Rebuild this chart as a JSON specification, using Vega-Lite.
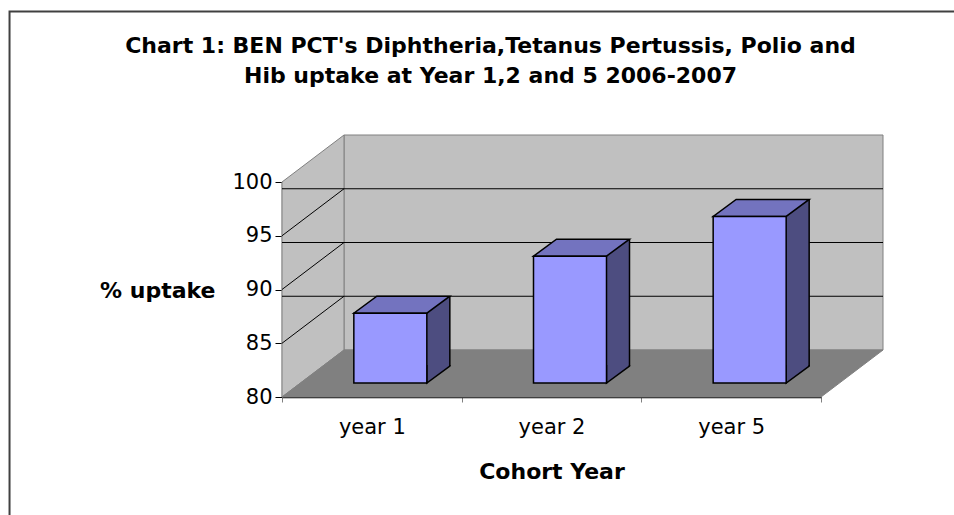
{
  "$schema": "https://vega.github.io/schema/vega-lite/v6.json",
  "autosize": {"type": "none"},
  "padding": {"left": 282, "top": 182, "right": 133, "bottom": 118},
  "width": 539,
  "height": 215,
  "background": "#ffffff",
  "config": {"view": {"stroke": null}, "font": "DejaVu Sans"},
  "title": {
    "text": ["Chart 1: BEN PCT's Diphtheria,Tetanus Pertussis, Polio and", "Hib uptake  at Year 1,2 and 5  2006-2007"],
    "font": "DejaVu Sans", "fontSize": 22, "fontWeight": "bold", "color": "#000000",
    "anchor": "middle", "frame": "group", "dx": -61, "offset": -97.5,
    "baseline": "alphabetic", "lineHeight": 30.5
  },
  "data": {"values": [
    {"cohort": "year 1", "uptake": 86.5},
    {"cohort": "year 2", "uptake": 91.8},
    {"cohort": "year 5", "uptake": 95.5}
  ]},
  "layer": [
    {
      "data": {"values": [{}]},
      "mark": {"type": "point", "shape": "M-362.3,130 L-362.3,-385.5 L600,-385.5", "size": 4, "filled": false, "stroke": "#404040", "strokeWidth": 2, "opacity": 1},
      "encoding": {"x": {"datum": "year 1", "type": "nominal", "title": "Cohort Year"}, "y": {"datum": 80, "type": "quantitative", "title": "% uptake"}}
    },
    {
      "data": {"values": [{}]},
      "mark": {"type": "point", "shape": "M-27.83,-262 L511.17,-262 L511.17,-47 L-27.83,-47 Z", "size": 4, "filled": true, "fill": "#C0C0C0", "stroke": "#808080", "strokeWidth": 1, "opacity": 1},
      "encoding": {"x": {"datum": "year 1", "type": "nominal", "title": "Cohort Year"}, "y": {"datum": 80, "type": "quantitative", "title": "% uptake"}}
    },
    {
      "data": {"values": [{}]},
      "mark": {"type": "point", "shape": "M-89.83,-215 L-27.83,-262 L-27.83,-47 L-89.83,0 Z", "size": 4, "filled": true, "fill": "#C0C0C0", "stroke": "#808080", "strokeWidth": 1, "opacity": 1},
      "encoding": {"x": {"datum": "year 1", "type": "nominal", "title": "Cohort Year"}, "y": {"datum": 80, "type": "quantitative", "title": "% uptake"}}
    },
    {
      "data": {"values": [{}]},
      "mark": {"type": "point", "shape": "M-89.83,0 L449.17,0 L511.17,-47 L-27.83,-47 Z", "size": 4, "filled": true, "fill": "#808080", "stroke": "#808080", "strokeWidth": 1, "opacity": 1},
      "encoding": {"x": {"datum": "year 1", "type": "nominal", "title": "Cohort Year"}, "y": {"datum": 80, "type": "quantitative", "title": "% uptake"}}
    },
    {
      "data": {"values": [{"tick": 85}, {"tick": 90}, {"tick": 95}]},
      "mark": {"type": "rule", "color": "#000000", "strokeWidth": 1, "xOffset": 62, "x2Offset": 62, "yOffset": -47},
      "encoding": {"y": {"field": "tick", "type": "quantitative", "title": "% uptake"}}
    },
    {
      "data": {"values": [{"tick": 85}, {"tick": 90}, {"tick": 95}]},
      "mark": {"type": "rule", "color": "#000000", "strokeWidth": 1, "xOffset": -89.83, "x2Offset": -27.83, "y2Offset": -47},
      "encoding": {
        "x": {"datum": "year 1", "type": "nominal", "title": "Cohort Year"},
        "x2": {"datum": "year 1"},
        "y": {"field": "tick", "type": "quantitative", "title": "% uptake"},
        "y2": {"field": "tick"}
      }
    },
    {
      "mark": {"type": "bar", "fill": "#4D4D80", "width": 73, "xOffset": 41.5, "yOffset": -31, "y2Offset": -31},
      "encoding": {
        "x": {"field": "cohort", "type": "nominal", "title": "Cohort Year"},
        "y": {"field": "uptake", "type": "quantitative", "title": "% uptake"},
        "y2": {"datum": 80}
      }
    },
    {
      "mark": {"type": "point", "shape": "M55,-32 L55,-14 L78,-31 L78,-32", "size": 4, "filled": true, "fill": "#4D4D80", "stroke": "#000000", "strokeWidth": 1.5, "opacity": 1},
      "encoding": {
        "x": {"field": "cohort", "type": "nominal", "title": "Cohort Year"},
        "y": {"datum": 80, "type": "quantitative", "title": "% uptake"}
      }
    },
    {
      "mark": {"type": "rule", "color": "#000000", "strokeWidth": 1.5, "xOffset": 78, "yOffset": -31, "y2Offset": -31},
      "encoding": {
        "x": {"field": "cohort", "type": "nominal", "title": "Cohort Year"},
        "y": {"field": "uptake", "type": "quantitative", "title": "% uptake"},
        "y2": {"datum": 80}
      }
    },
    {
      "mark": {"type": "point", "shape": "M-18,-14 L55,-14 L78,-31 L5,-31 Z", "size": 4, "filled": true, "fill": "#7373BF", "stroke": "#000000", "strokeWidth": 1.5, "opacity": 1},
      "encoding": {
        "x": {"field": "cohort", "type": "nominal", "title": "Cohort Year"},
        "y": {"field": "uptake", "type": "quantitative", "title": "% uptake"}
      }
    },
    {
      "mark": {"type": "bar", "fill": "#9999FF", "stroke": "#000000", "strokeWidth": 1.5, "width": 73, "xOffset": 18.5, "yOffset": -14, "y2Offset": -14},
      "encoding": {
        "x": {
          "field": "cohort", "type": "nominal", "title": "Cohort Year",
          "scale": {"domain": ["year 1", "year 2", "year 5"], "paddingInner": 0, "paddingOuter": 0},
          "axis": {
            "labelAngle": 0, "labelAlign": "center", "labelFont": "DejaVu Sans", "labelFontSize": 21, "labelColor": "#000000",
            "tickBand": "extent", "tickSize": 5, "tickColor": "#808080", "domainColor": "#000000", "domainWidth": 1.5,
            "labelPadding": 25, "grid": false,
            "titleFont": "DejaVu Sans", "titleFontSize": 22, "titleFontWeight": "bold", "titleColor": "#000000",
            "titleX": 269.5, "titleY": 81, "titleBaseline": "alphabetic", "titleAlign": "center"
          }
        },
        "y": {
          "field": "uptake", "type": "quantitative", "title": "% uptake",
          "scale": {"domain": [80, 100], "nice": false, "zero": false},
          "axis": {
            "values": [80, 85, 90, 95, 100], "grid": false,
            "labelFont": "DejaVu Sans", "labelFontSize": 21, "labelColor": "#000000", "labelPadding": 3,
            "tickSize": 7, "tickColor": "#000000", "domainColor": "#555555", "domainWidth": 1.5,
            "titleFont": "DejaVu Sans", "titleFontSize": 22, "titleFontWeight": "bold", "titleColor": "#000000",
            "titleAngle": 0, "titleAlign": "right", "titleBaseline": "alphabetic", "titleX": -67, "titleY": 115
          }
        },
        "y2": {"datum": 80}
      }
    }
  ]
}
